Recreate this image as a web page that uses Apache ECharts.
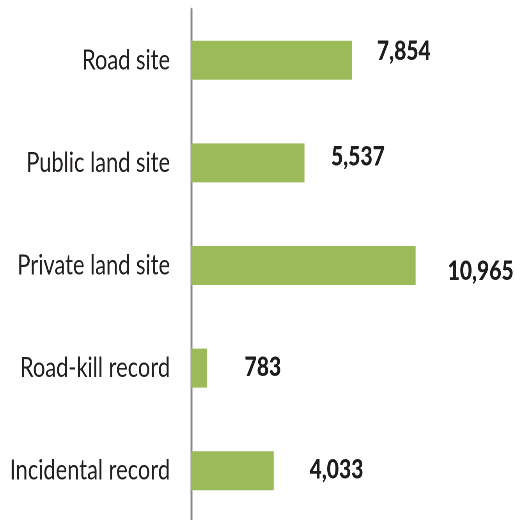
<!DOCTYPE html>
<html>
<head>
<meta charset="utf-8">
<script src="https://cdn.jsdelivr.net/npm/echarts@6/dist/echarts.min.js"></script>
<style>
  html, body { margin: 0; padding: 0; background: #fff; overflow: hidden; }
  /* the source picture is squeezed sideways, so the chart is drawn wider and squeezed back */
  #chart { width: 660px; height: 520px; transform: scaleX(0.78); transform-origin: 0 0; }
</style>
</head>
<body>
<div id="chart"></div>
<script>
  // categories top to bottom
  const categories = ['Road site', 'Public land site', 'Private land site', 'Road-kill record', 'Incidental record']
  const counts = [7854, 5537, 10965, 783, 4033]
  // labels were nudged by hand in the original, so each one gets its own shift
  const labelShiftX = [32, 34, 41, 48, 46]
  const labelShiftY = [-9, -6, 6, -1, -1]

  const font = 'Lato, "Liberation Sans", sans-serif'

  const chart = echarts.init(document.getElementById('chart'), null, { devicePixelRatio: 2 })

  const data = counts.map((v, i) => ({
    value: v,
    label: { offset: [labelShiftX[i], labelShiftY[i]] },
  }))

  chart.setOption({
    animation: false,
    grid: {
      left: 245,
      top: 9,
      width: 315,
      height: 513,
      outerBoundsMode: 'none',
    },
    xAxis: {
      type: 'value',
      min: 0,
      max: 12000,
      show: false,
    },
    yAxis: {
      type: 'category',
      data: categories,
      inverse: true,
      axisLine: {
        show: true,
        lineStyle: { color: '#8a8a8a', width: 2.5 },
      },
      axisTick: { show: false },
      axisLabel: {
        margin: 27,
        color: '#231f20',
        fontFamily: font,
        fontSize: 28,
      },
    },
    series: [
      {
        type: 'bar',
        data: data,
        barCategoryGap: '62%',
        itemStyle: { color: '#9bbb59' },
        label: {
          show: true,
          position: 'right',
          distance: 0,
          color: '#1e1c1d',
          fontFamily: font,
          fontWeight: 900,
          fontSize: 27,
          formatter: (p) => p.value.toLocaleString('en-US'),
        },
      },
    ],
  })
</script>
</body>
</html>
